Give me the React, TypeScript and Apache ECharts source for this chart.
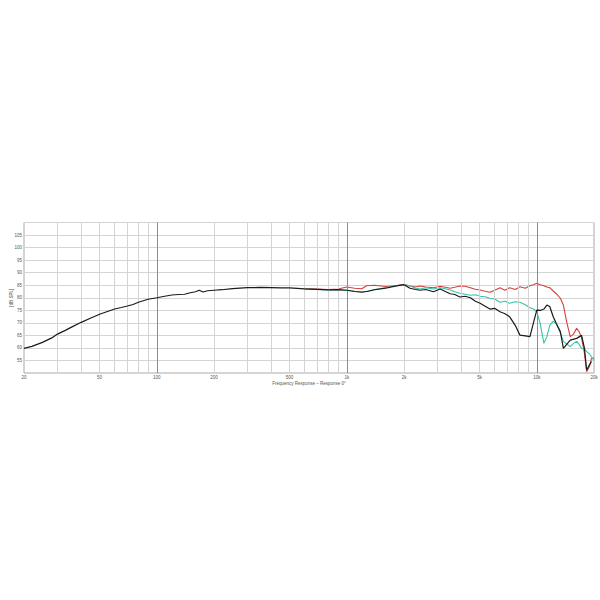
import React, { useEffect, useRef } from "react";
import * as echarts from "echarts";

const blackFreq = [20, 22, 25, 28, 30, 33, 36, 40, 45, 50, 55, 60, 65, 70, 75, 80, 90, 100, 110, 120, 130, 140, 150, 160, 167, 175, 185, 200, 220, 250, 300, 350, 400, 450, 500, 600, 700, 800, 900, 1000, 1100, 1200, 1300, 1400, 1600, 1800, 2000, 2150, 2300, 2430, 2600, 2860, 3100, 3300, 3500, 3700, 3940, 4200, 4470, 4750, 5030, 5350, 5670, 6000, 6400, 6800, 7200, 7700, 8150, 8700, 9200, 9600, 10000, 10500, 10900, 11300, 11700, 12200, 12700, 13300, 13800, 14400, 15000, 16200, 17200, 17800, 18300, 19000, 19400];
const blackDb = [59.8, 60.6, 62.2, 64.0, 65.5, 67.0, 68.5, 70.2, 71.9, 73.4, 74.5, 75.5, 76.1, 76.7, 77.3, 78.2, 79.4, 80.0, 80.6, 81.1, 81.3, 81.4, 82.0, 82.4, 83.0, 82.3, 82.8, 83.0, 83.2, 83.6, 84.0, 84.1, 84.0, 83.9, 83.9, 83.5, 83.3, 83.1, 83.2, 83.0, 82.5, 82.2, 82.6, 83.2, 83.8, 84.6, 85.2, 83.8, 83.3, 83.0, 83.3, 82.4, 83.5, 82.5, 81.6, 81.3, 80.3, 80.6, 80.0, 78.6, 77.8, 76.6, 75.5, 75.8, 74.4, 73.6, 72.4, 69.0, 65.1, 64.8, 64.5, 70.0, 75.1, 75.0, 75.5, 77.1, 76.5, 72.4, 69.5, 66.5, 59.8, 61.5, 63.1, 63.8, 65.0, 60.0, 51.2, 53.5, 54.5];

const hiFreq = [600, 700, 800, 900, 1000, 1100, 1200, 1270, 1400, 1600, 1800, 2000, 2150, 2300, 2430, 2600, 2860, 3100, 3300, 3500, 3700, 3940, 4200, 4470, 4750, 5030, 5350, 5670, 6000, 6400, 6800, 7200, 7700, 8150, 8700, 9200, 9600, 10000, 10400, 10900, 11300, 11700, 12200, 12700, 13300, 13800, 14400, 15000, 15600, 16200, 16700, 17200, 17800, 18300, 19000, 19400, 20000];
const redDb = [83.6, 83.5, 83.3, 83.5, 84.3, 83.8, 83.6, 84.8, 85.0, 84.5, 84.8, 85.3, 84.7, 84.3, 84.7, 84.3, 84.0, 84.6, 84.2, 83.8, 84.2, 84.7, 84.6, 84.0, 83.4, 83.1, 82.6, 82.2, 83.0, 84.0, 83.0, 84.0, 83.3, 84.4, 83.8, 84.8, 85.2, 85.8, 85.2, 84.8, 84.3, 84.0, 82.7, 81.5, 79.8, 77.1, 70.0, 64.5, 65.5, 67.8, 66.5, 64.0, 58.0, 50.5, 53.0, 55.8, 56.0];
const greenDb = [83.5, 83.3, 83.1, 83.1, 83.0, 82.6, 82.4, 82.6, 83.3, 84.0, 84.8, 85.2, 84.8, 83.8, 83.5, 84.0, 83.5, 84.0, 83.6, 83.1, 82.4, 81.8, 81.4, 81.0, 81.2, 80.6, 80.4, 79.8, 79.5, 78.2, 78.6, 77.8, 78.4, 78.2, 77.2, 76.0, 75.5, 74.4, 70.0, 61.8, 64.5, 69.0, 70.7, 69.5, 66.0, 62.6, 61.5, 60.5, 61.8, 62.6, 61.5, 59.8, 59.5, 58.5, 57.5, 56.5, 55.0];

const xTickValues = [20, 50, 100, 200, 500, 1000, 2000, 5000, 10000, 20000];
const minorGrid = [30, 40, 50, 60, 70, 80, 90, 200, 300, 400, 500, 600, 700, 800, 900, 2000, 3000, 4000, 5000, 6000, 7000, 8000, 9000];
const majorGrid = [100, 1000, 10000];

const pairs = (f: number[], v: number[]) => f.map((x, i) => [x, v[i]]);

export default function App() {
  const ref = useRef<HTMLDivElement>(null);
  useEffect(() => {
    const chart = echarts.init(ref.current!, null, { renderer: "svg" });
    const fmt = (v: number) => (v >= 1000 ? v / 1000 + "k" : String(v));
    const font = "Arial, Liberation Sans, sans-serif";
    chart.setOption({
      animation: false,
      backgroundColor: "#ffffff",
      grid: {
        left: 24,
        right: 6,
        top: 222.5,
        bottom: 227,
        containLabel: false,
        outerBoundsMode: "none",
        show: true,
        borderColor: "#a8a8a8",
        borderWidth: 1,
        backgroundColor: "transparent",
      },
      xAxis: {
        type: "log",
        logBase: 10,
        min: 20,
        max: 20000,
        axisLine: { show: false },
        axisTick: { show: false },
        splitLine: { show: false },
        axisLabel: {
          customValues: xTickValues,
          formatter: fmt,
          fontSize: 4.5,
          color: "#555",
          margin: 2,
          fontFamily: font,
        },
        name: "Frequency Response \u2013 Response 0\u00b0",
        nameLocation: "middle",
        nameGap: 8,
        nameMoveOverlap: false,
        nameTextStyle: { fontSize: 4.5, color: "#555", fontFamily: font },
      },
      yAxis: {
        type: "value",
        min: 50,
        max: 110,
        interval: 5,
        axisLine: { show: false },
        axisTick: { show: false },
        splitLine: { show: true, lineStyle: { color: "#d4d4d4", width: 1 } },
        axisLabel: {
          showMinLabel: false,
          showMaxLabel: false,
          fontSize: 4.5,
          color: "#555",
          margin: 2,
          fontFamily: font,
        },
        name: "[dB SPL]",
        nameLocation: "middle",
        nameGap: 10,
        nameMoveOverlap: false,
        nameTextStyle: { fontSize: 4.5, color: "#555", fontFamily: font },
      },
      series: [
        {
          type: "line",
          name: "grid",
          data: [],
          z: 1,
          silent: true,
          markLine: {
            silent: true,
            symbol: "none",
            animation: false,
            label: { show: false },
            data: [
              ...minorGrid.map((v) => ({ xAxis: v, lineStyle: { color: "#d4d4d4", width: 1, type: "solid" } })),
              ...majorGrid.map((v) => ({ xAxis: v, lineStyle: { color: "#8c8c8c", width: 1, type: "solid" } })),
            ],
          },
        },
        {
          type: "line",
          name: "red",
          data: pairs(hiFreq, redDb),
          showSymbol: false,
          z: 3,
          lineStyle: { color: "#d2413f", width: 1.1 },
        },
        {
          type: "line",
          name: "green",
          data: pairs(hiFreq, greenDb),
          showSymbol: false,
          z: 4,
          lineStyle: { color: "#33c4a8", width: 1.1 },
        },
        {
          type: "line",
          name: "black",
          data: pairs(blackFreq, blackDb),
          showSymbol: false,
          z: 5,
          lineStyle: { color: "#1b1b1b", width: 1.2 },
        },
      ],
    });
    return () => chart.dispose();
  }, []);
  return (
    <div
      ref={ref}
      style={{ position: "fixed", left: 0, top: 0, width: 600, height: 600, background: "#fff" }}
    />
  );
}
